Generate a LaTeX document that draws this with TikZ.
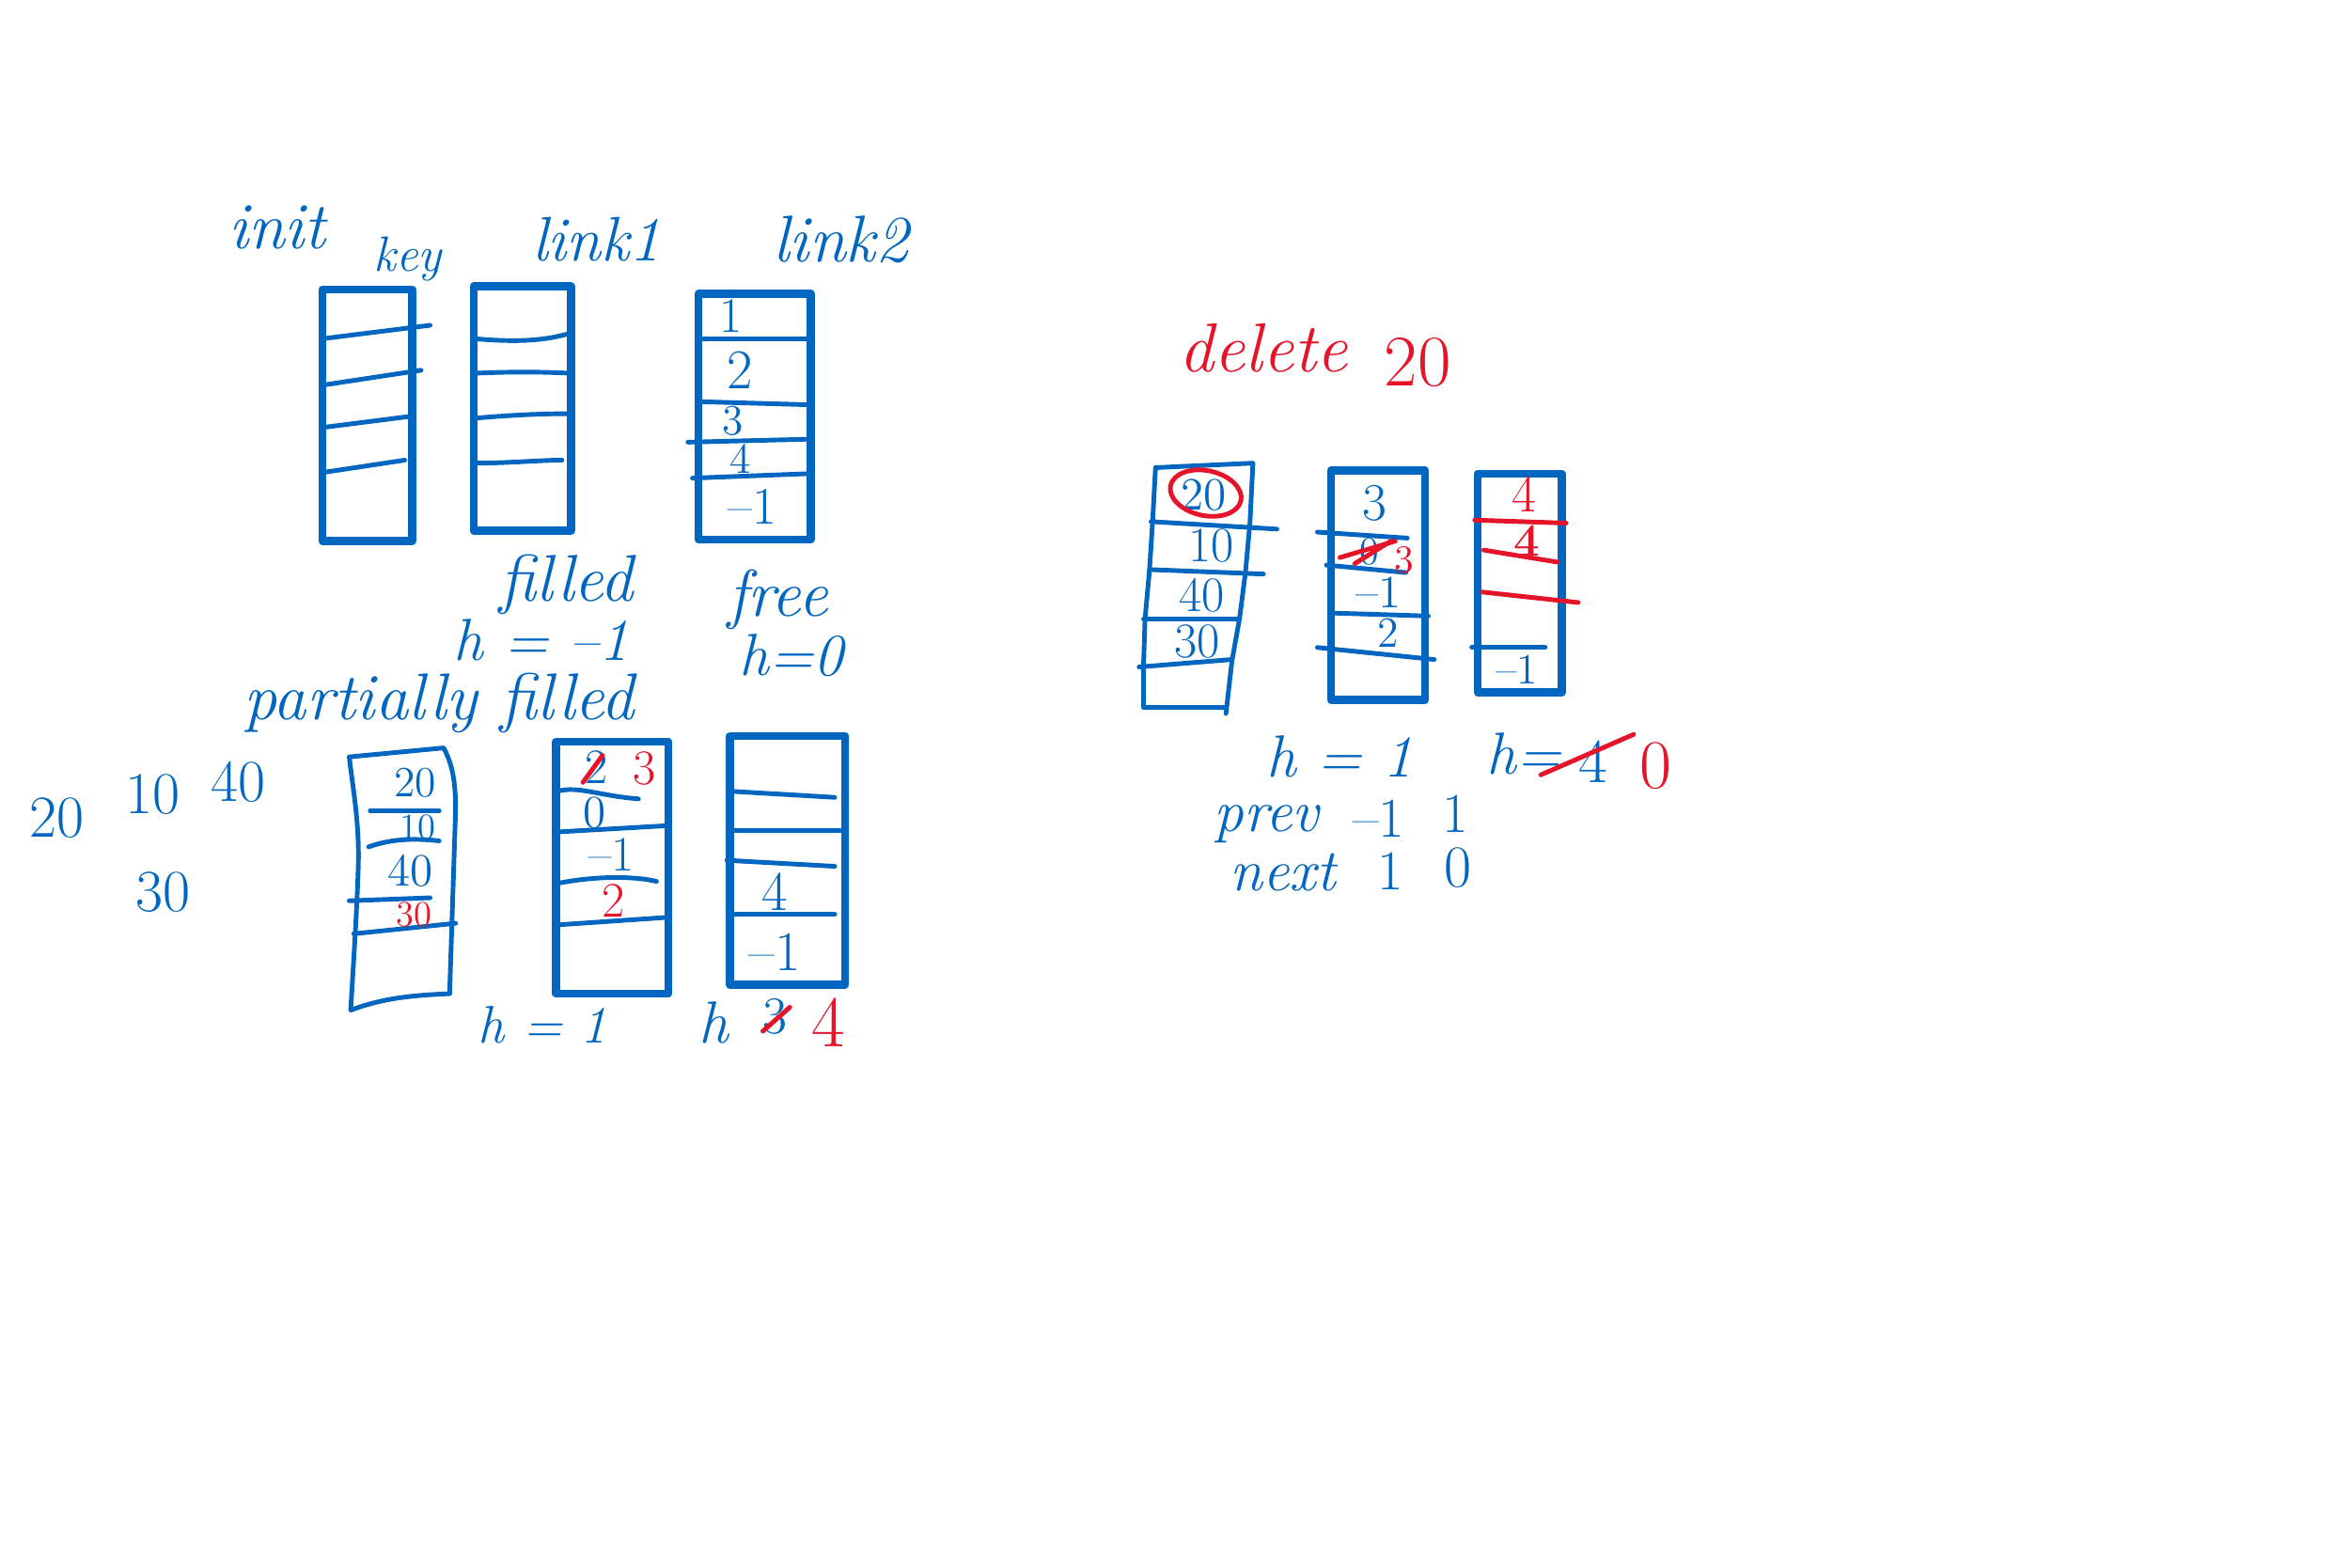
\documentclass[tikz,border=0pt]{standalone}
\definecolor{pen}{RGB}{0,102,192}
\definecolor{ink}{RGB}{230,20,40}
\tikzset{
  bx/.style={draw=pen, line width=2.4pt, line cap=round, line join=round},
  tb/.style={draw=pen, line width=1.4pt, line cap=round, line join=round},
  ln/.style={draw=pen, line width=1.4pt, line cap=round},
  rl/.style={draw=ink, line width=1.4pt, line cap=round},
  bt/.style={text=pen, inner sep=0pt, font=\itshape\fontsize{#1}{#1}\selectfont},
  rt/.style={text=ink, inner sep=0pt, font=\itshape\fontsize{#1}{#1}\selectfont},
  bn/.style={text=pen, inner sep=0pt, font=\fontsize{#1}{#1}\selectfont},
  rn/.style={text=ink, inner sep=0pt, font=\fontsize{#1}{#1}\selectfont},
}
\begin{document}
\begin{tikzpicture}[x=0.015944cm, y=-0.015944cm]
\useasboundingbox (0,0) rectangle (1568,1046);

% ---------- top group : init ----------
\node[bt=20] (init) at (185,152) {init};
\node[bt=15] (key) at (272,173) {key};
\node[bt=19] (link1) at (398,160) {link1};
\node[bt=20] (link2) at (561,160) {link2};

% key box
\draw[bx] (215,193) rectangle (275,361);
\draw[ln] (215,226) -- (287,217);
\draw[ln] (215,257) -- (281,247);
\draw[ln] (217,285) -- (272,278);
\draw[ln] (217,315) -- (270,307);

% link1 box
\draw[bx] (316,191) rectangle (381,354);
\draw[ln] (317,226) .. controls (340,228) and (360,228) .. (378,223);
\draw[ln] (317,249) .. controls (340,248) and (360,248) .. (380,249);
\draw[ln] (317,279) .. controls (340,277) and (360,276) .. (380,276);
\draw[ln] (317,309) .. controls (340,309) and (360,307) .. (375,307);

% link2 box
\draw[bx] (466,196) rectangle (541,360);
\draw[ln] (467,226) -- (540,226);
\draw[ln] (467,268) -- (538,270);
\draw[ln] (459,295) -- (540,293);
\draw[ln] (462,319) -- (540,316);
\node[bn=15] (l2a) at (488,211) {1};
\node[bn=17] (l2b) at (494,247) {2};
\node[bn=13] (l2c) at (489,281) {3};
\node[bn=13] (l2d) at (494,306) {4};
\node[bn=16] (l2e) at (502,338) {\textendash 1};

\node[bt=20] (filled) at (378,390) {filled};
\node[bt=18] (hm1) at (361,427) {h = \textendash 1};
\node[bt=20] (free) at (519,400) {free};
\node[bt=18] (h0) at (528,437) {h=0};
\node[bt=20] (partial) at (293,469) {partially filled};

% ---------- bottom group ----------
\node[bn=18] (n20) at (38,546) {20};
\node[bn=18] (n10) at (102,530) {10};
\node[bn=18] (n40) at (159,522) {40};
\node[bn=18] (n30) at (109,595) {30};

% partially filled key box
\draw[tb] (233,505) -- (296,499) .. controls (302,510) and (304,522) .. (304,540)
  -- (300,663) .. controls (275,664) and (255,666) .. (234,674)
  .. controls (236,640) and (238,610) .. (239,580) .. controls (240,550) and (236,530) .. (233,505);
\draw[ln] (247,541) -- (293,541);
\draw[ln] (246,565) .. controls (260,560) and (275,559) .. (293,561);
\draw[ln] (233,601) -- (287,599);
\draw[ln] (236,623) -- (304,616);
\node[bn=13] (k20) at (277,522) {20};
\node[bn=11] (k10) at (279,552) {10};
\node[bn=14] (k40) at (274,581) {40};
\node[rn=11] (k30) at (276,610) {30};

% link1 (partially filled)
\draw[bx] (371,495) rectangle (446,663);
\draw[ln] (372,528) .. controls (385,524) and (400,531) .. (426,533);
\draw[ln] (373,555) -- (443,551);
\draw[ln] (374,589) .. controls (395,585) and (420,584) .. (438,588);
\draw[ln] (373,617) -- (446,612);
\node[bn=15] (m2) at (398,512) {2};
\draw[rl] (389,522) -- (402,504);
\node[rn=15] (m3) at (430,513) {3};
\node[bn=14] (m0) at (397,542) {0};
\node[bn=15] (mm1) at (408,570) {\textendash 1};
\node[rn=15] (mr2) at (409,601) {2};

% link2 (partially filled)
\draw[bx] (487,491) rectangle (564,657);
\draw[ln] (489,528) -- (557,532);
\draw[ln] (489,554) -- (561,554);
\draw[ln] (485,574) -- (557,578);
\draw[ln] (489,610) -- (557,610);
\node[bn=17] (f4) at (517,595) {4};
\node[bn=17] (fm1) at (517,635) {\textendash 1};

\node[bt=16] (hb1) at (362,684) {h = 1};
\node[bt=18] (hb2) at (476,682) {h};
\node[bn=16] (hb3) at (517,678) {3};
\draw[rl] (509,688) -- (527,672);
\node[rn=22] (hb4) at (553,682) {4};

% ---------- delete group ----------
\node[rt=21] (del) at (843,232) {delete};
\node[rn=22] (del20) at (946,242) {20};

% key box (after delete)
\draw[tb] (771,312) -- (836,309) -- (834,349) -- (831,382) -- (827,413) -- (822,441) -- (818,476);
\draw[tb] (818,472) -- (763,472) -- (763,444) -- (764,413) -- (767,380) -- (769,349) -- (771,312);
\draw[ln] (768,348) -- (852,353);
\draw[ln] (767,380) -- (843,383);
\draw[ln] (763,413) -- (827,413);
\draw[ln] (760,445) -- (822,440);
\node[bn=14] (d20) at (803,330) {20};
\draw[rl] (804.5,329) ellipse [x radius=24, y radius=15, rotate=-12];
\node[bn=15] (d10) at (808,364) {10};
\node[bn=15] (d40) at (802,397) {40};
\node[bn=15] (d30) at (799,428) {30};

% link1 box (after delete)
\draw[bx] (888,314) rectangle (951,467);
\draw[ln] (879,355) -- (939,359);
\draw[ln] (885,377) -- (938,382);
\draw[ln] (889,409) -- (953,411);
\draw[ln] (879,432) -- (957,440);
\node[bn=16] (e3) at (917,336) {3};
\node[bn=12] (e0) at (914,368) {0};
\draw[rl] (894,372) -- (931,361);
\draw[rl] (904,376) -- (928,361);
\node[rn=12] (e3r) at (937,374) {3};
\node[bn=14] (em1) at (920,395) {\textendash 1};
\node[bn=13] (e2) at (926,422) {2};

% link2 box (after delete)
\draw[bx] (986,316) rectangle (1042,462);
\draw[rl] (984,347) -- (1045,349);
\draw[rl] (990,367) -- (1039,375);
\draw[rl] (989,395) -- (1053,402);
\draw[ln] (982,432) -- (1031,432);
\node[rn=16] (g4) at (1017,330) {4};
\node[rn=14, font=\bfseries\fontsize{14}{14}\selectfont] (g4b) at (1019,361) {4};
\node[bn=13] (gm1) at (1012,447) {\textendash 1};

\node[bt=18] (dh1) at (894,505) {h = 1};
\node[bt=18] (dh2) at (1017,503) {h=};
\node[bn=19] (dh4) at (1063,508) {4};
\draw[rl] (1028,517) -- (1090,490);
\node[rn=21] (dh0) at (1105,511) {0};

\node[bt=18] (prev) at (845,550) {prev};
\node[bn=17] (pv1) at (920,546) {\textendash 1};
\node[bn=17] (pv2) at (971,543) {1};
\node[bt=18] (next) at (856,582) {next};
\node[bn=17] (nx1) at (928,581) {1};
\node[bn=18] (nx2) at (973,579) {0};
\end{tikzpicture}
\end{document}
